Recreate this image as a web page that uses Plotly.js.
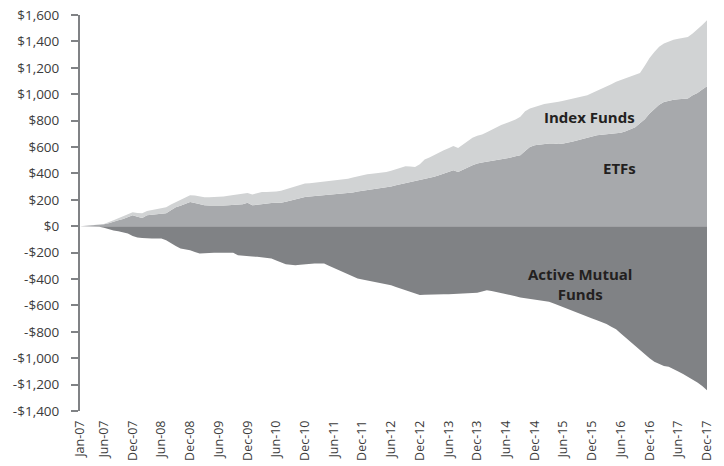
<!DOCTYPE html>
<html>
<head>
<meta charset="utf-8">
<script src="https://cdn.plot.ly/plotly-3.0.1.min.js"></script>
<style>html,body{margin:0;padding:0;background:#fff;}#chart{width:724px;height:466px;}</style>
</head>
<body>
<div id="chart"></div>
<script>
// Monthly cumulative flows, Jan-07 .. Dec-17 (USD billions)
const etfs = [
  0, 2, 4, 8, 12, 15, 22, 35, 45, 55, 70, 83,
  72, 63, 83, 85, 90, 95, 98, 120, 144, 155, 170, 184,
  175, 165, 159, 157, 155, 154, 156, 158, 160, 162, 166, 177,
  159, 162, 168, 172, 175, 177, 177, 185, 195, 205, 215, 222,
  225, 228, 230, 233, 236, 240, 242, 246, 250, 255, 262, 267,
  270, 275, 280, 285, 290, 300, 310, 318, 325, 333, 340, 348,
  355, 365, 375, 386, 400, 412, 424, 411, 425, 445, 462, 475,
  482, 488, 494, 500, 505, 512, 520, 530, 538, 570, 600, 613,
  618, 622, 626, 626, 622, 626, 632, 642, 652, 662, 672, 682,
  689, 692, 696, 699, 702, 708, 720, 735, 750, 780, 810, 853,
  890, 920, 941, 950, 958, 962, 965, 967, 992, 1010, 1035, 1060
];
// ETFs + Index Funds (stacked total)
const etfsPlusIndexFunds = [
  0, 2, 4, 8, 12, 16, 28, 45, 60, 75, 92, 106,
  100, 98, 116, 122, 130, 137, 144, 165, 184, 200, 218, 235,
  232, 226, 220, 220, 220, 220, 225, 230, 235, 240, 246, 252,
  240, 250, 260, 260, 260, 262, 268, 280, 290, 300, 312, 323,
  326, 330, 333, 338, 343, 347, 352, 356, 360, 368, 378, 386,
  394, 398, 402, 406, 411, 420, 430, 440, 454, 452, 449, 470,
  505, 520, 540, 560, 575, 590, 608, 593, 620, 645, 670, 685,
  695, 712, 730, 752, 766, 780, 795, 808, 830, 870, 891, 905,
  915, 925, 929, 935, 942, 950, 959, 968, 977, 985, 992, 1010,
  1025, 1040, 1055, 1075, 1095, 1105, 1120, 1135, 1150, 1160, 1215, 1275,
  1320, 1360, 1385, 1400, 1412, 1420, 1428, 1433, 1459, 1490, 1525, 1560
];
const activeMutualFunds = [
  0, -1, -2, -4, -5, -12, -25, -32, -38, -45, -55, -75,
  -86, -90, -93, -93, -93, -93, -106, -130, -150, -169, -175, -182,
  -195, -207, -205, -202, -202, -202, -202, -202, -202, -220, -225, -228,
  -230, -232, -235, -240, -245, -260, -275, -288, -292, -295, -292, -288,
  -282, -282, -282, -282, -300, -315, -333, -350, -365, -380, -396, -403,
  -410, -415, -422, -430, -438, -447, -460, -472, -485, -498, -510, -522,
  -520, -518, -515, -515, -515, -515, -515, -512, -510, -508, -505, -505,
  -495, -485, -490, -498, -505, -510, -520, -530, -540, -545, -550, -555,
  -560, -565, -573, -585, -600, -615, -630, -645, -660, -674, -688, -700,
  -712, -725, -740, -762, -780, -813, -845, -875, -905, -939, -970, -1000,
  -1027, -1045, -1060, -1065, -1080, -1100, -1120, -1141, -1160, -1185, -1210, -1242
];
const monthNames = ["Jan","Feb","Mar","Apr","May","Jun","Jul","Aug","Sep","Oct","Nov","Dec"];
const years = ["07","08","09","10","11","12","13","14","15","16","17"];
const months = [];
years.forEach(y => monthNames.forEach(m => months.push(m + "-" + y)));

const xTickLabels = ["Jan-07","Jun-07","Dec-07","Jun-08","Dec-08","Jun-09","Dec-09","Jun-10","Dec-10",
  "Jun-11","Dec-11","Jun-12","Dec-12","Jun-13","Dec-13","Jun-14","Dec-14","Jun-15","Dec-15",
  "Jun-16","Dec-16","Jun-17","Dec-17"];
const yTickVals = [1600,1400,1200,1000,800,600,400,200,0,-200,-400,-600,-800,-1000,-1200,-1400];
const yTickText = ["$1,600","$1,400","$1,200","$1,000","$800","$600","$400","$200","$0",
  "-$200","-$400","-$600","-$800","-$1,000","-$1,200","-$1,400"];

const traces = [
  {x: months, y: activeMutualFunds, type: "scatter", mode: "lines", fill: "tozeroy",
   fillcolor: "#808285", line: {width: 0, color: "#808285"}, hoverinfo: "skip", name: "Active Mutual Funds"},
  {x: months, y: etfs, type: "scatter", mode: "lines", fill: "tozeroy",
   fillcolor: "#a7a9ac", line: {width: 0, color: "#a7a9ac"}, hoverinfo: "skip", name: "ETFs"},
  {x: months, y: etfsPlusIndexFunds, type: "scatter", mode: "lines", fill: "tonexty",
   fillcolor: "#d1d3d4", line: {width: 0, color: "#d1d3d4"}, hoverinfo: "skip", name: "Index Funds"}
];

const layout = {
  width: 724, height: 466,
  margin: {l: 80, r: 17, t: 15, b: 55},
  paper_bgcolor: "#ffffff", plot_bgcolor: "#ffffff",
  showlegend: false,
  font: {family: "Open Sans, sans-serif", color: "#3c3c3c"},
  xaxis: {
    type: "category", range: [0, months.length - 1],
    tickmode: "array", tickvals: xTickLabels, ticktext: xTickLabels,
    tickangle: -90, tickfont: {size: 12.5, color: "#3c3c3c"},
    ticklabelstandoff: 6,
    showgrid: false, zeroline: false, showline: false, ticks: ""
  },
  yaxis: {
    range: [-1400, 1600],
    tickmode: "array", tickvals: yTickVals, ticktext: yTickText,
    tickfont: {size: 13.5, color: "#3c3c3c"},
    ticklabelstandoff: 9,
    showgrid: false, zeroline: false,
    showline: true, linecolor: "#808285", linewidth: 2,
    ticks: "outside", ticklen: 7, tickwidth: 2, tickcolor: "#808285"
  },
  annotations: [
    {xref: "paper", yref: "y", x: 0.812, y: 825, xanchor: "center", yanchor: "middle",
     text: "<b>Index Funds</b>", showarrow: false,
     font: {size: 15, color: "#231f20", family: "Open Sans, sans-serif"}},
    {xref: "paper", yref: "y", x: 0.86, y: 439, xanchor: "center", yanchor: "middle",
     text: "<b>ETFs</b>", showarrow: false,
     font: {size: 15, color: "#231f20", family: "Open Sans, sans-serif"}},
    {xref: "paper", yref: "y", x: 0.797, y: -440, xanchor: "center", yanchor: "middle",
     text: "<b>Active Mutual<br>Funds</b>", showarrow: false,
     align: "center", font: {size: 15, color: "#231f20", family: "Open Sans, sans-serif"}}
  ]
};

Plotly.newPlot("chart", traces, layout, {staticPlot: true, displayModeBar: false});
</script>
</body>
</html>
